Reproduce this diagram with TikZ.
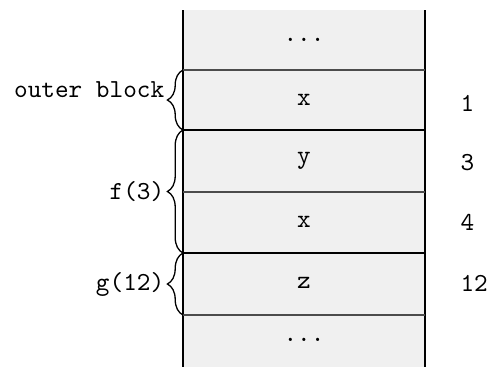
\documentclass[tikz,border=0pt]{standalone}
\usetikzlibrary{decorations.pathreplacing}
\begin{document}
\begin{tikzpicture}[x=0.385pt,y=-0.385pt,
  thin sep/.style={draw=black!70, line width=0.45pt},
  thick sep/.style={draw=black, line width=0.75pt},
  side/.style={draw=black, line width=0.4pt},
  celltext/.style={font=\ttfamily, inner sep=0pt},
  addr/.style={font=\ttfamily, inner sep=0pt},
  brc/.style={decorate, decoration={brace, amplitude=6pt}, line width=0.5pt},
  brlabel/.style={font=\ttfamily, anchor=east, inner sep=1pt}]
\useasboundingbox (0,0) rectangle (490,367);
\fill[black!6] (183,10) rectangle (425,367);
\coordinate (tl) at (183,10);
\coordinate (bl) at (183,367);
\coordinate (tr) at (425,10);
\coordinate (br) at (425,367);
\draw[side] (tl) -- (bl);
\draw[side] (tr) -- (br);
\foreach \y/\s in {70/thin sep,130/thick sep,192/thin sep,253/thick sep,315/thin sep}{
  \coordinate (l\y) at (183,\y);
  \coordinate (r\y) at (425,\y);
  \draw[\s] (l\y) -- (r\y);
}
\node[celltext] (c0) at (304,40) {...};
\node[celltext] (c1) at (304,100) {x};
\node[celltext] (c2) at (304,161) {y};
\node[celltext] (c3) at (304,222) {x};
\node[celltext] (c4) at (304,283) {z};
\node[celltext] (c5) at (304,340) {...};
\node[addr, anchor=west] (a1) at (460,103) {1};
\node[addr, anchor=west] (a3) at (460,163) {3};
\node[addr, anchor=west] (a4) at (460,222) {4};
\node[addr, anchor=west] (a12) at (460,283) {12};
\draw[brc] (l130) -- node[brlabel, xshift=-6pt, yshift=4pt] (b1) {outer block} (l70);
\draw[brc] (l253) -- node[brlabel, xshift=-6pt, yshift=0pt] (b2) {f(3)} (l130);
\draw[brc] (l315) -- node[brlabel, xshift=-6pt, yshift=0pt] (b3) {g(12)} (l253);
\end{tikzpicture}
\end{document}
